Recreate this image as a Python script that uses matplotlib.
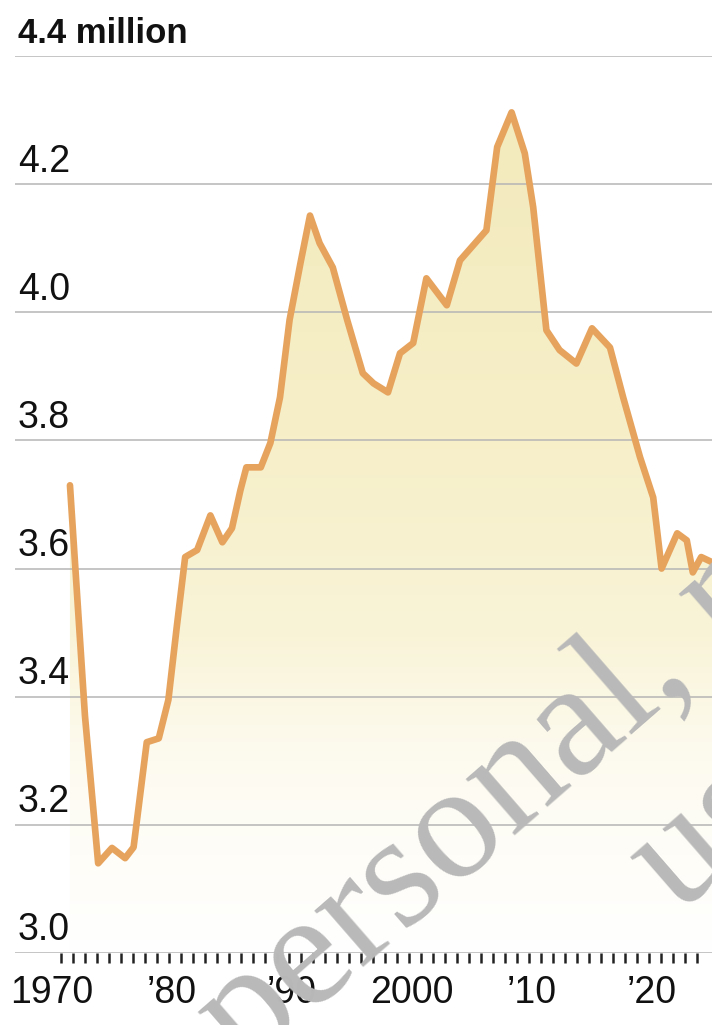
import numpy as np
import matplotlib.pyplot as plt
from matplotlib.colors import LinearSegmentedColormap

# values (million)
years = [1971.5, 1972.75, 1973.85, 1975.0, 1976.1, 1976.8, 1977.9, 1978.9, 1979.7,
         1980.4, 1981.1, 1982.1, 1983.2, 1984.2, 1985.0, 1985.7, 1986.2, 1987.4,
         1988.2, 1989.0, 1989.8, 1990.7, 1991.5, 1992.3, 1993.4, 1994.6, 1995.9,
         1996.8, 1998.0, 1999.0, 2000.1, 2001.2, 2002.9, 2004.0, 2006.2, 2007.1,
         2008.3, 2009.4, 2010.1, 2011.2, 2012.3, 2013.7, 2015.0, 2016.5, 2017.6,
         2019.0, 2020.1, 2020.8, 2022.1, 2022.9, 2023.4, 2024.1, 2025.0]
values = [3.73, 3.37, 3.14, 3.164, 3.148, 3.165, 3.329, 3.335, 3.395,
          3.509, 3.618, 3.629, 3.683, 3.641, 3.663, 3.722, 3.758, 3.758,
          3.796, 3.867, 3.988, 4.076, 4.151, 4.108, 4.07, 3.988, 3.905,
          3.889, 3.875, 3.936, 3.952, 4.053, 4.011, 4.081, 4.128, 4.258,
          4.312, 4.248, 4.164, 3.972, 3.941, 3.92, 3.975, 3.945, 3.867,
          3.774, 3.711, 3.60, 3.655, 3.644, 3.594, 3.618, 3.61]

y_ticks = [3.0, 3.2, 3.4, 3.6, 3.8, 4.0, 4.2, 4.4]
y_labels = ['3.0', '3.2', '3.4', '3.6', '3.8', '4.0', '4.2', '4.4 million']
x_ticks = [1970, 1980, 1990, 2000, 2010, 2020]
x_labels = ['1970', '\u201980', '\u201990', '2000', '\u201910', '\u201920']

sans = ['Liberation Sans', 'DejaVu Sans']
serif = ['Liberation Serif', 'DejaVu Serif']
line_color = '#e6a35e'

fig = plt.figure(figsize=(7.12, 10.25), dpi=100)
ax = fig.add_axes([15 / 712, 72 / 1025, 697 / 712, 897 / 1025])
ax.set_xlim(1966.92, 2025.0)
ax.set_ylim(3.0, 4.4)

# gradient fill under the line, fading to white toward the bottom
cmap = LinearSegmentedColormap.from_list(
    'fade', [(0.0, '#ffffff'), (0.23, '#fdfbf0'), (0.38, '#f9f4d8'),
             (0.62, '#f6efc8'), (1.0, '#f3eabd')])
grad = np.linspace(0, 1, 256).reshape(-1, 1)
img = ax.imshow(grad, aspect='auto', cmap=cmap, origin='lower',
                extent=[1966.92, 2025.0, 3.0, 4.3], zorder=1)
poly = ax.fill_between(years, values, 3.0, color='none', lw=0)
img.set_clip_path(poly.get_paths()[0], transform=ax.transData)

for y in y_ticks:
    ax.axhline(y, color='#b5b5b5', lw=1.1, zorder=2)

ax.plot(years, values, color=line_color, lw=4.8, solid_joinstyle='round',
        solid_capstyle='round', zorder=3, clip_on=False)

for y, lab in zip(y_ticks, y_labels):
    bold = lab.endswith('million')
    ax.annotate(lab, xy=(0, y), xycoords=('axes fraction', 'data'),
                xytext=(2.2, 9 if bold else 9), textcoords='offset points',
                ha='left', va='baseline', family=sans,
                fontsize=25 if bold else 27,
                fontweight='bold' if bold else 'normal', color='#111111')

for s in ax.spines.values():
    s.set_visible(False)
ax.set_yticks([])
ax.set_xticks(x_ticks)
ax.set_xticklabels(x_labels, family=sans, fontsize=27, color='#111111')
ax.set_xticks([yr + 0.75 for yr in range(1970, 2024)], minor=True)
ax.tick_params(axis='x', which='major', length=0, pad=16)
ax.tick_params(axis='x', which='minor', length=7, width=1.8, color='#222222')

# newsprint watermark
wm = dict(family=serif, fontsize=118, color='#b9b9b9', rotation=41,
          rotation_mode='anchor', ha='left', va='baseline', zorder=10)
fig.text(245 / 712, (1025 - 1071) / 1025, 'personal, non-', **wm)
fig.text(678 / 712, (1025 - 915) / 1025, 'use only', **wm)

fig.savefig('out.png', dpi=100, facecolor='white')
